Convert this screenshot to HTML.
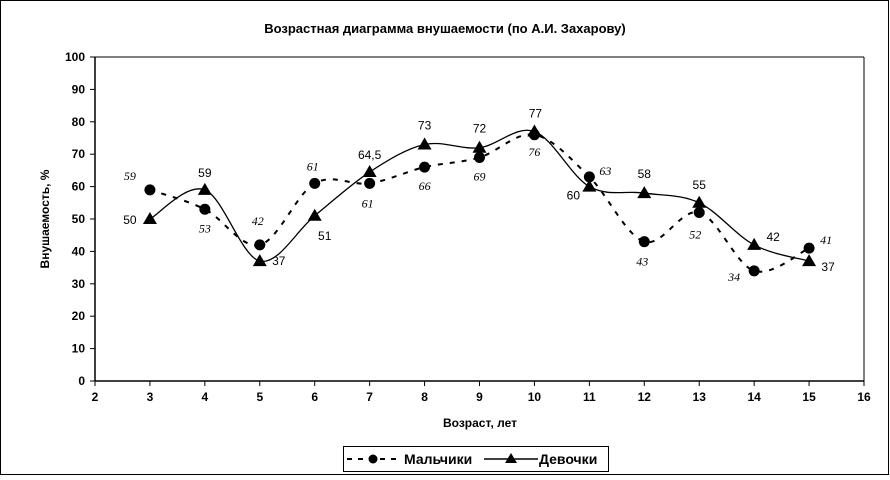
<!DOCTYPE html>
<html><head><meta charset="utf-8">
<style>
body{margin:0;background:#fff;}
svg{display:block;font-family:"Liberation Sans",Arial,sans-serif;}
</style></head>
<body>
<svg id="chart" width="890" height="480" viewBox="0 0 890 480">
<rect x="0.5" y="0.5" width="888" height="474" fill="#fff" stroke="#000" stroke-width="1"/>
<text x="445" y="33" text-anchor="middle" font-size="13" font-weight="bold">Возрастная диаграмма внушаемости (по А.И. Захарову)</text>
<g id="axes"></g>
<g id="series"></g>
<text x="480" y="427" text-anchor="middle" font-size="12" font-weight="bold">Возраст, лет</text>
<text transform="translate(49,219) rotate(-90)" text-anchor="middle" font-size="12" font-weight="bold">Внушаемость, %</text>
<g>
<rect x="343.5" y="446.5" width="265" height="25" fill="#fff" stroke="#000"/>
<g>
<line x1="347" y1="459" x2="398" y2="459" stroke="#000" stroke-width="2" stroke-dasharray="5,6"/>
<circle cx="373" cy="459" r="4.5" fill="#000"/>
<text x="404" y="464" font-size="14" font-weight="bold">Мальчики</text>
</g>
<g>
<line x1="484" y1="459" x2="538" y2="459" stroke="#000" stroke-width="1.5"/>
<polygon points="511,453 517,463 505,463" fill="#000"/>
<text x="539" y="464" font-size="14" font-weight="bold">Девочки</text>
</g>
</g>
</svg>
<script>
const ages = [3,4,5,6,7,8,9,10,11,12,13,14,15];
const boys = [59,53,42,61,61,66,69,76,63,43,52,34,41];
const girls = [50,59,37,51,64.5,73,72,77,60,58,55,42,37];
const boysLabels = ["59","53","42","61","61","66","69","76","63","43","52","34","41"];
const girlsLabels = ["50","59","37","51","64,5","73","72","77","60","58","55","42","37"];
const xTicks = [2,3,4,5,6,7,8,9,10,11,12,13,14,15,16];
const yTicks = [0,10,20,30,40,50,60,70,80,90,100];
// label offsets (style, not data)
const boysOff = [[-20,-10],[0,23],[-2,-20],[-2,-13],[-2,24],[0,23],[0,23],[0,21],[16,-2],[-2,24],[-4,26],[-20,10],[17,-4]];
const girlsOff = [[-20,5],[0,-13],[19,4],[10,24],[0,-13],[0,-15],[0,-15],[1,-14],[-16,13],[0,-15],[0,-14],[19,-4],[19,10]];

const NS="http://www.w3.org/2000/svg";
const X0=95, X1=864, Y0=381, Y1=57;
const xs=v=>X0+(v-2)/(16-2)*(X1-X0);
const ys=v=>Y0-(v/100)*(Y0-Y1);
function mk(tag,attrs,parent){const e=document.createElementNS(NS,tag);for(const k in attrs)e.setAttribute(k,attrs[k]);parent.appendChild(e);return e;}
const axes=document.getElementById('axes');
const ser=document.getElementById('series');
mk('line',{x1:X0,y1:Y1,x2:X0,y2:Y0,stroke:'#000','stroke-width':1.5},axes);
mk('line',{x1:X0,y1:Y0,x2:X1,y2:Y0,stroke:'#000','stroke-width':1.5},axes);
mk('line',{x1:X0,y1:Y1,x2:X1,y2:Y1,stroke:'#000','stroke-width':1},axes);
mk('line',{x1:X1,y1:Y1,x2:X1,y2:Y0,stroke:'#000','stroke-width':1},axes);
yTicks.forEach(t=>{
  const y=ys(t);
  mk('line',{x1:X0-5,y1:y,x2:X0,y2:y,stroke:'#000'},axes);
  const tx=mk('text',{x:X0-10,y:y+4,'text-anchor':'end','font-size':12,'font-weight':'bold'},axes);
  tx.textContent=t;
  
  
});
xTicks.forEach(t=>{
  const x=xs(t);
  mk('line',{x1:x,y1:Y0,x2:x,y2:Y0+5,stroke:'#000'},axes);
  const tx=mk('text',{x:x,y:Y0+20,'text-anchor':'middle','font-size':12,'font-weight':'bold'},axes);
  tx.textContent=t;
  
  
});
function smooth(pts){
  let d=`M${pts[0][0]},${pts[0][1]}`;
  for(let i=0;i<pts.length-1;i++){
    const p0=pts[i-1]||pts[i],p1=pts[i],p2=pts[i+1],p3=pts[i+2]||p2;
    const t=1/6;
    const c1=[p1[0]+(p2[0]-p0[0])*t,p1[1]+(p2[1]-p0[1])*t];
    const c2=[p2[0]-(p3[0]-p1[0])*t,p2[1]-(p3[1]-p1[1])*t];
    d+=` C${c1[0]},${c1[1]} ${c2[0]},${c2[1]} ${p2[0]},${p2[1]}`;
  }
  return d;
}
const bp=ages.map((a,i)=>[xs(a),ys(boys[i])]);
const gp=ages.map((a,i)=>[xs(a),ys(girls[i])]);
const bl=mk('path',{d:smooth(bp),fill:'none',stroke:'#000','stroke-width':2,'stroke-dasharray':'5,7'},ser);


const gl=mk('path',{d:smooth(gp),fill:'none',stroke:'#000','stroke-width':1.3},ser);


bp.forEach((p,i)=>{
  const c=mk('circle',{cx:p[0],cy:p[1],r:5.5,fill:'#000'},ser);
  
  
  const t=mk('text',{x:p[0]+boysOff[i][0],y:p[1]+boysOff[i][1],'text-anchor':'middle','font-size':12,'font-style':'italic','font-family':'"Liberation Serif",serif'},ser);
  t.textContent=boysLabels[i];
  
  
});
gp.forEach((p,i)=>{
  const g=mk('polygon',{points:`${p[0]},${p[1]-7} ${p[0]+7},${p[1]+5} ${p[0]-7},${p[1]+5}`,fill:'#000'},ser);
  
  
  const t=mk('text',{x:p[0]+girlsOff[i][0],y:p[1]+girlsOff[i][1],'text-anchor':'middle','font-size':12},ser);
  t.textContent=girlsLabels[i];
  
  
});
</script>
</body></html>
